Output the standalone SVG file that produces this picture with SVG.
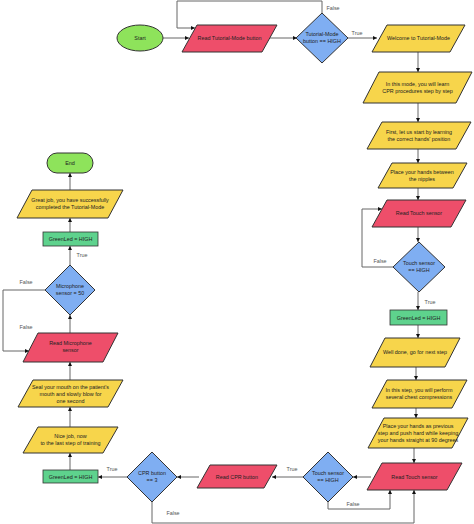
<svg xmlns="http://www.w3.org/2000/svg" width="474" height="524" viewBox="0 0 474 524">
<defs>
<marker id="ah" viewBox="0 0 6 6" refX="6" refY="3" markerWidth="4" markerHeight="4" orient="auto"><path d="M0,0 L6,3 L0,6 z" fill="#111"/></marker>
<style>
.c{fill:none;stroke:#666;stroke-width:1;marker-end:url(#ah)}
.y{fill:#F7D54B;stroke:#333;stroke-width:1}
.r{fill:#EE4E6A;stroke:#333;stroke-width:1}
.b{fill:#7FAEF2;stroke:#333;stroke-width:1}
.g{fill:#5ED28D;stroke:#333;stroke-width:0.8}
.l{fill:#8EE35B;stroke:#333;stroke-width:1}
text{font-family:"Liberation Sans",Arial,sans-serif;font-size:5.4px;fill:#222;text-anchor:middle}
.lb{fill:#555}
</style>
</defs>
<rect width="474" height="524" fill="#fff"/>
<g id="connectors">
<path class="c" d="M163,38 H189"/>
<path class="c" d="M270,38 H297"/>
<path class="c" d="M322,13 V1 H177 V28 H195"/>
<path class="c" d="M348,38 H377"/>
<path class="c" d="M418,52 V72"/>
<path class="c" d="M418,103 V122"/>
<path class="c" d="M418,149 V163"/>
<path class="c" d="M418,188 V200"/>
<path class="c" d="M418,227 V242"/>
<path class="c" d="M393,267 H362 V209 H382"/>
<path class="c" d="M418,292 V310"/>
<path class="c" d="M418,325 V338"/>
<path class="c" d="M416,367 V380"/>
<path class="c" d="M416,408 V418"/>
<path class="c" d="M414,448 V463"/>
<path class="c" d="M371,477 H353"/>
<path class="c" d="M303,477 H272"/>
<path class="c" d="M328,502 V509 H390 V490"/>
<path class="c" d="M199,477 H177"/>
<path class="c" d="M127,477 H98"/>
<path class="c" d="M152,502 V523 H414 V490"/>
<path class="c" d="M70,470 V453"/>
<path class="c" d="M70,427 V407"/>
<path class="c" d="M70,380 V362"/>
<path class="c" d="M70,333 V315"/>
<path class="c" d="M45,290 H3 V351 H29"/>
<path class="c" d="M70,265 V246"/>
<path class="c" d="M70,232 V218"/>
<path class="c" d="M70,190 V173"/>
<text class="lb" x="333" y="10">False</text>
<text class="lb" x="357" y="35">True</text>
<text class="lb" x="380" y="263">False</text>
<text class="lb" x="430" y="304">True</text>
<text class="lb" x="292" y="471">True</text>
<text class="lb" x="353" y="506">False</text>
<text class="lb" x="112" y="471">True</text>
<text class="lb" x="173" y="515">False</text>
<text class="lb" x="26" y="284">False</text>
<text class="lb" x="26" y="329">False</text>
<text class="lb" x="82" y="257">True</text>
</g>
<g id="start"><ellipse class="l" cx="140" cy="38" rx="23" ry="13"/><text x="140" y="40">Start</text></g>
<g id="read-tutorial"><polygon class="r" points="197,25 277,25 262,52 182,52"/><text x="229.5" y="40">Read Tutorial-Mode button</text></g>
<g id="tutorial-check"><polygon class="b" points="322,13 348,38 322,63 296,38"/><text x="322" y="36">Tutorial-Mode</text><text x="322" y="43">button == HIGH</text></g>
<g id="welcome"><polygon class="y" points="387,25 465,25 450,52 372,52"/><text x="418.5" y="40">Welcome to Tutorial-Mode</text></g>
<g id="learn-cpr"><polygon class="y" points="379,72 472,72 456,103 363,103"/><text x="417.5" y="86">In this mode, you will learn</text><text x="417.5" y="93">CPR procedures step by step</text></g>
<g id="first-learn"><polygon class="y" points="382,122 471,122 456,149 367,149"/><text x="419" y="134">First, let us start by learning</text><text x="419" y="141">the correct hands' position</text></g>
<g id="place-nipples"><polygon class="y" points="392,163 467,163 453,188 378,188"/><text x="422" y="174">Place your hands between</text><text x="422" y="181">the nipples</text></g>
<g id="read-touch-1"><polygon class="r" points="387,200 466,200 451,227 372,227"/><text x="419" y="215">Read Touch sensor</text></g>
<g id="touch-check-1"><polygon class="b" points="419,242 445,267 419,292 393,267"/><text x="419" y="265">Touch sensor</text><text x="419" y="272">== HIGH</text></g>
<g id="greenled-1"><rect class="g" x="390" y="310" width="57" height="15"/><text x="418.5" y="319.5">GreenLed = HIGH</text></g>
<g id="well-done"><polygon class="y" points="385,338 460,338 445,367 370,367"/><text x="415" y="354">Well done, go for next step</text></g>
<g id="chest-comp"><polygon class="y" points="387,380 467,380 452,408 372,408"/><text x="419" y="392">In this step, you will perform</text><text x="419" y="399">several chest compressions</text></g>
<g id="place-previous"><polygon class="y" points="384,418 468,418 452,448 368,448"/><text x="418" y="428">Place your hands as previous</text><text x="418" y="435">step and push hard while keeping</text><text x="418" y="442">your hands straight at 90 degrees</text></g>
<g id="read-touch-2"><polygon class="r" points="382,463 462,463 447,490 367,490"/><text x="414.5" y="479">Read Touch sensor</text></g>
<g id="touch-check-2"><polygon class="b" points="328,452 353,477 328,502 303,477"/><text x="328" y="475">Touch sensor</text><text x="328" y="482">== HIGH</text></g>
<g id="read-cpr"><polygon class="r" points="210,465 277,465 264,488 197,488"/><text x="237" y="479">Read CPR button</text></g>
<g id="cpr-check"><polygon class="b" points="152,452 177,477 152,502 127,477"/><text x="152" y="475">CPR button</text><text x="152" y="482">== 3</text></g>
<g id="greenled-2"><rect class="g" x="43" y="470" width="55" height="13"/><text x="70.5" y="478.5">GreenLed = HIGH</text></g>
<g id="nice-job"><polygon class="y" points="38,427 118,427 103,453 23,453"/><text x="70.5" y="438">Nice job, now</text><text x="70.5" y="445">to the last step of training</text></g>
<g id="seal-mouth"><polygon class="y" points="33,380 123,380 108,407 18,407"/><text x="70.5" y="389">Seal your mouth on the patient's</text><text x="70.5" y="396">mouth and slowly blow for</text><text x="70.5" y="403">one second</text></g>
<g id="read-mic"><polygon class="r" points="38,333 118,333 103,362 23,362"/><text x="70.5" y="345">Read Microphone</text><text x="70.5" y="352">sensor</text></g>
<g id="mic-check"><polygon class="b" points="70,265 95,290 70,315 45,290"/><text x="70" y="288">Microphone</text><text x="70" y="295">sensor = 50</text></g>
<g id="greenled-3"><rect class="g" x="43" y="232" width="55" height="14"/><text x="70.5" y="241">GreenLed = HIGH</text></g>
<g id="great-job"><polygon class="y" points="32,190 123,190 108,218 17,218"/><text x="70" y="202">Great job, you have successfully</text><text x="70" y="209">completed the Tutorial-Mode</text></g>
<g id="end"><rect class="l" x="47" y="153" width="46" height="20" rx="10"/><text x="70" y="165">End</text></g>
</svg>
